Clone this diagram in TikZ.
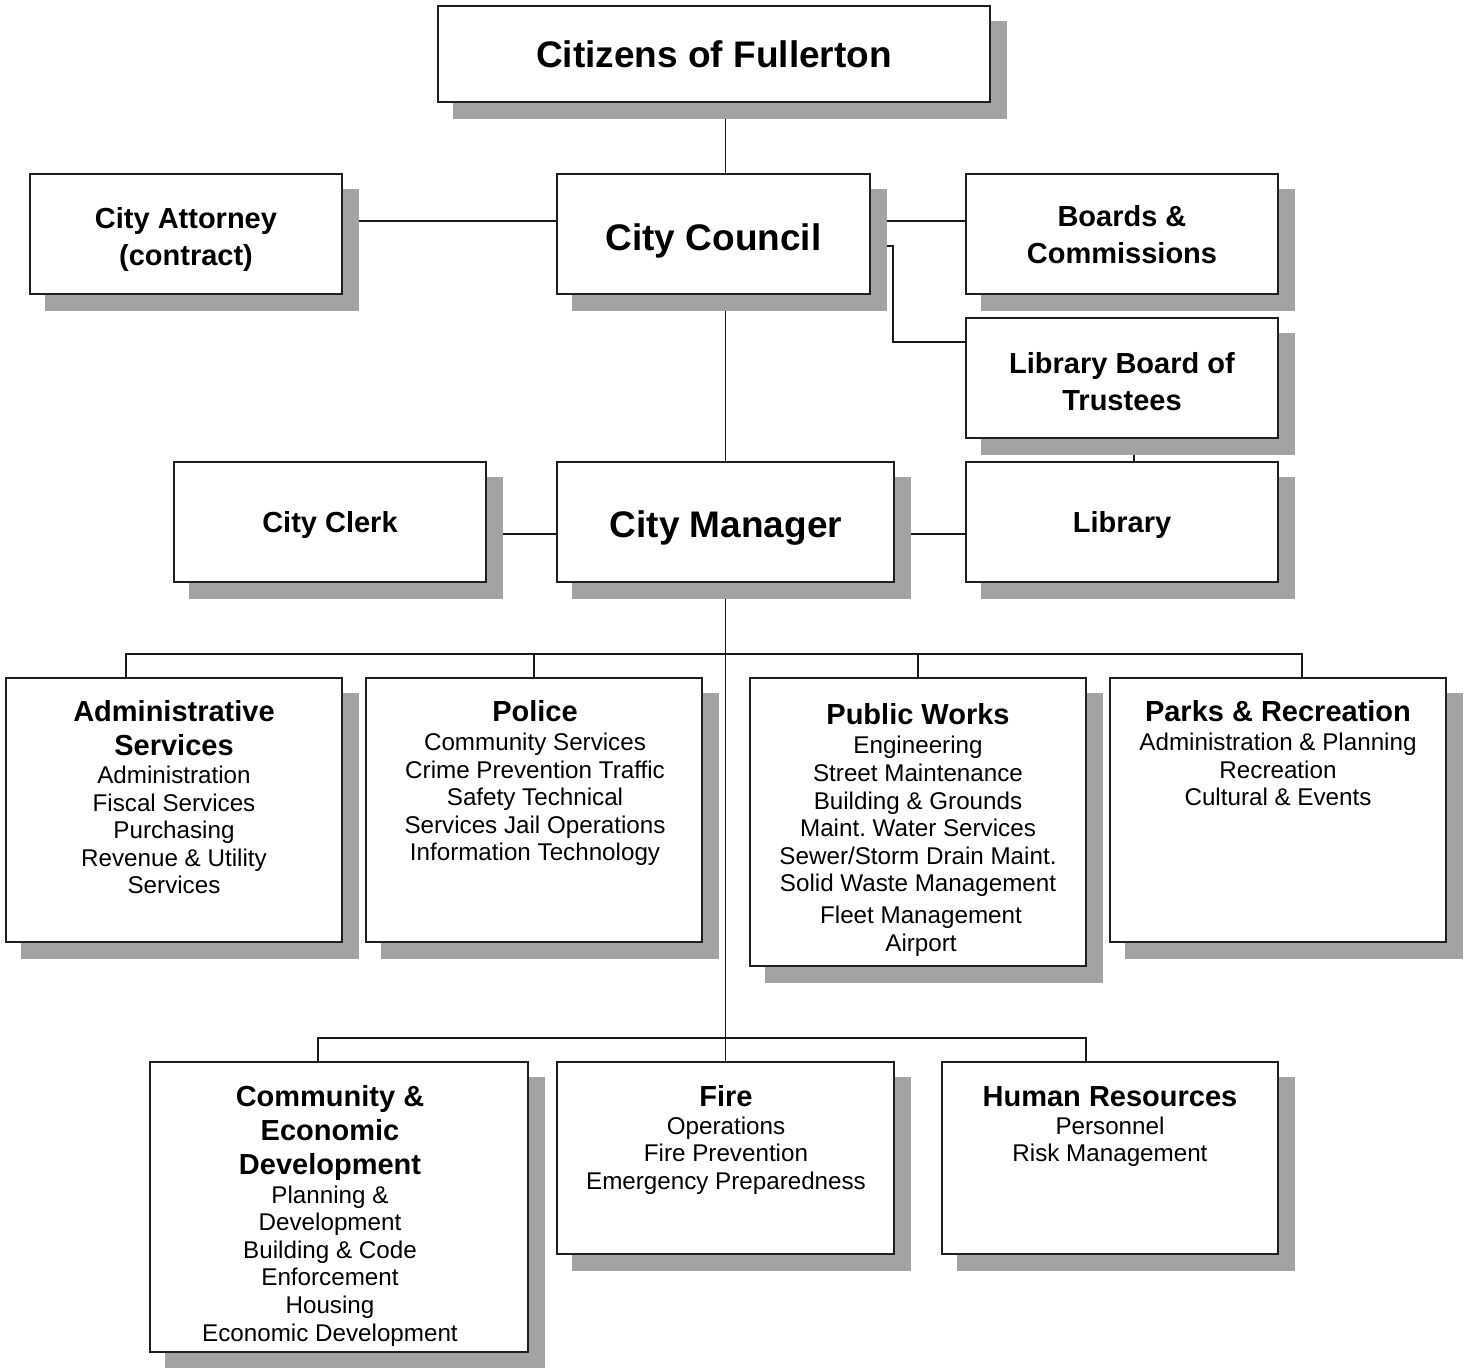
\documentclass[tikz,border=0pt]{standalone}
\usepackage{fontspec}
\setmainfont{Liberation Sans}
\usetikzlibrary{fit,calc}
\pgfdeclarelayer{back}
\pgfdeclarelayer{shad}
\pgfsetlayers{back,shad,main}
\frenchspacing
\tikzset{
  box/.style={draw=black!88, line width=1pt, fill=white, inner sep=0pt, rectangle},
  shadowfill/.style={fill=black!36},
  conn/.style={draw=black!90, line width=0.9pt},
  bigtxt/.style={font=\bfseries\fontsize{18.5}{22}\selectfont, inner sep=0pt, anchor=base},
  medtxt/.style={font=\bfseries\fontsize{14.5}{17}\selectfont, inner sep=0pt, anchor=base},
  item/.style={font=\fontsize{12.1}{14}\selectfont, inner sep=0pt, anchor=base},
}
\newcommand\orgbox[5]{%
  \node[box, fit={(#2,#3) (#4,#5)}] (#1) {};
  \begin{pgfonlayer}{shad}
    \fill[shadowfill] ([shift={(16,16)}]#1.north west) rectangle ([shift={(16,16)}]#1.south east);
  \end{pgfonlayer}
}
\begin{document}
\begin{tikzpicture}[x=0.5pt,y=-0.5pt]
\useasboundingbox (0,0) rectangle (1468,1368);

% boxes
\orgbox{citizens}{438}{6}{990}{102}
\orgbox{attorney}{30}{174}{342}{294}
\orgbox{council}{557}{174}{870}{294}
\orgbox{boards}{966}{174}{1278}{294}
\orgbox{libboard}{966}{318}{1278}{438}
\orgbox{clerk}{174}{462}{486}{582}
\orgbox{manager}{557}{462}{894}{582}
\orgbox{library}{966}{462}{1278}{582}
\orgbox{admin}{6}{678}{342}{942}
\orgbox{police}{366}{678}{702}{942}
\orgbox{pw}{750}{678}{1086}{966}
\orgbox{parks}{1110}{678}{1446}{942}
\orgbox{ced}{150}{1062}{528}{1352}
\orgbox{fire}{557}{1062}{894}{1254}
\orgbox{hr}{942}{1062}{1278}{1254}

% texts
\node[bigtxt] (t-citizens) at (714,68) {Citizens of Fullerton};
\node[bigtxt] (t-council) at (713.5,251) {City Council};
\node[bigtxt] (t-manager) at (726,538) {City Manager};
\node[medtxt] (t-att1) at (186,229) {City Attorney};
\node[medtxt] (t-att2) at (186,266) {(contract)};
\node[medtxt] (t-brd1) at (1122,227) {Boards \&};
\node[medtxt] (t-brd2) at (1122,264) {Commissions};
\node[medtxt] (t-lb1) at (1122,374) {Library Board of};
\node[medtxt] (t-lb2) at (1122,411) {Trustees};
\node[medtxt] (t-clerk) at (330,533) {City Clerk};
\node[medtxt] (t-library) at (1122,533) {Library};

\node[medtxt] (t-adm1) at (174,722) {Administrative};
\node[medtxt] (t-adm2) at (174,756) {Services};
\foreach \t [count=\i from 0] in {Administration,Fiscal Services,Purchasing,Revenue \& Utility,Services}
  \node[item] (adm\i) at (174,784+27.5*\i) {\t};

\node[medtxt] (t-pol) at (535,722) {Police};
\foreach \t [count=\i from 0] in {Community Services,Crime Prevention Traffic,Safety Technical,Services Jail Operations,Information Technology}
  \node[item] (pol\i) at (535,751+27.5*\i) {\t};

\node[medtxt] (t-pw) at (918,725) {Public Works};
\foreach \t [count=\i from 0] in {Engineering,Street Maintenance,Building \& Grounds,Maint. Water Services,Sewer/Storm Drain Maint.,Solid Waste Management}
  \node[item] (pw\i) at (918,754+27.6*\i) {\t};
\node[item] (pw6) at (921,924) {Fleet Management};
\node[item] (pw7) at (921,951.5) {Airport};

\node[medtxt] (t-parks) at (1278,722) {Parks \& Recreation};
\foreach \t [count=\i from 0] in {Administration \& Planning,Recreation,Cultural \& Events}
  \node[item] (prk\i) at (1278,751+27.5*\i) {\t};

\node[medtxt] (t-ced1) at (330,1106) {Community \&};
\node[medtxt] (t-ced2) at (330,1140) {Economic};
\node[medtxt] (t-ced3) at (330,1174) {Development};
\foreach \t [count=\i from 0] in {Planning \&,Development,Building \& Code,Enforcement,Housing,Economic Development}
  \node[item] (ced\i) at (330,1203+27.6*\i) {\t};

\node[medtxt] (t-fire) at (726,1106) {Fire};
\foreach \t [count=\i from 0] in {Operations,Fire Prevention,Emergency Preparedness}
  \node[item] (fire\i) at (726,1134+27.5*\i) {\t};

\node[medtxt] (t-hr) at (1110,1106) {Human Resources};
\foreach \t [count=\i from 0] in {Personnel,Risk Management}
  \node[item] (hr\i) at (1110,1134+27.5*\i) {\t};

% connector helper coordinates
\coordinate (cA) at (0,221);
\coordinate (cB) at (0,246);
\coordinate (cC) at (893,342);
\coordinate (cE) at (1134,0);
\coordinate (cF) at (0,534);
\coordinate (bA) at (126,654);
\coordinate (bD) at (1302,654);
\coordinate (bE) at (318,1038);
\coordinate (bF) at (1086,1038);

\begin{pgfonlayer}{back}
\draw[conn] (citizens.south -| manager.north) -- (council.north -| manager.north);
\draw[conn] (council.south -| manager.north) -- (manager.north);
\draw[conn] (manager.south) -- (fire.north);
\draw[conn] (attorney.east |- cA) -- (council.west |- cA);
\draw[conn] (council.east |- cA) -- (boards.west |- cA);
\draw[conn] (council.east |- cB) -| (cC) -- (libboard.west |- cC);
\draw[conn] (libboard.south -| cE) -- (library.north -| cE);
\draw[conn] (clerk.east |- cF) -- (manager.west |- cF);
\draw[conn] (manager.east |- cF) -- (library.west |- cF);
\draw[conn] (admin.north -| bA) -- (bA) -- (bD) -- (parks.north -| bD);
\draw[conn] (police.north) -- (police.north |- bA);
\draw[conn] (pw.north) -- (pw.north |- bA);
\draw[conn] (ced.north -| bE) -- (bE) -- (bF) -- (hr.north -| bF);
\end{pgfonlayer}
\end{tikzpicture}
\end{document}
